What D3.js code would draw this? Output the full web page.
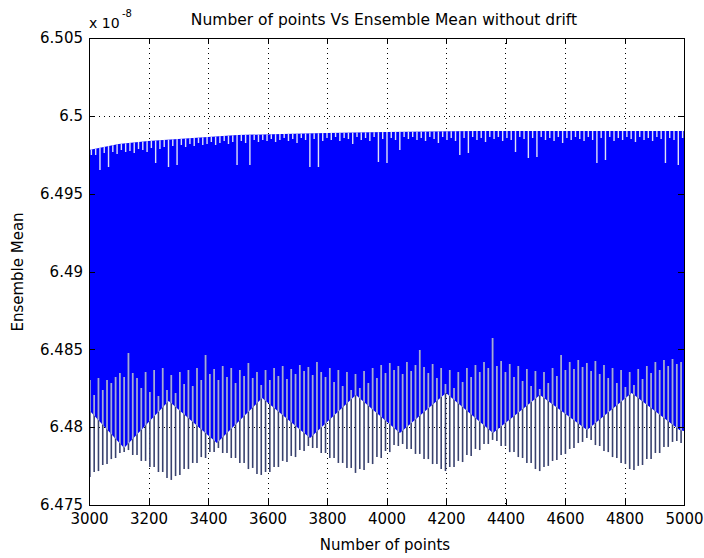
<!DOCTYPE html>
<html><head><meta charset="utf-8">
<script src="https://cdn.jsdelivr.net/npm/d3@7"></script>
<style>
body{margin:0;background:#fff}
svg{display:block}
text{font-family:"DejaVu Sans",sans-serif;fill:#000}
</style>
</head><body>
<svg id="chart" width="704" height="558"></svg>
<script>
// ---------- data (values in units of 1e-8) ----------
const title = "Number of points Vs Ensemble Mean without drift";
const xLabel = "Number of points";
const yLabel = "Ensemble Mean";
const xTicks = [3000,3200,3400,3600,3800,4000,4200,4400,4600,4800,5000];
const yTicks = [6.475,6.48,6.485,6.49,6.495,6.5,6.505];
const yTickLabels = ["6.475","6.48","6.485","6.49","6.495","6.5","6.505"];

// upper envelope of the dense band
const topX   = [3000,3050,3100,3200,3300,3400,3500,3650,3800,4000,4300,4700,5000];
const topVal = [6.49781,6.49800,6.49819,6.49838,6.49851,6.49864,6.49877,6.49883,6.49890,6.49896,6.49903,6.49903,6.49903];

// lower edge of the dense (filled) band
const bandX   = [3000,3118,3268,3430,3582,3743,3897,4045,4200,4358,4516,4674,4824,4985,5000];
const bandLow = [6.48110,6.47866,6.48168,6.47898,6.48187,6.47930,6.48207,6.47962,6.48219,6.47962,6.48207,6.47982,6.48219,6.47982,6.47975];

// individual oscillation strokes (sample grid)
const spikeX = d3.range(3003, 5000, 14.4);
const spikeTop = [
6.48303,6.48207,6.48316,6.48239,6.48303,6.48284,6.48322,6.48348,6.48322,6.48476,
6.48348,6.48316,6.48252,6.48354,6.48226,6.48367,6.48200,6.48380,6.48239,6.48335,
6.48219,6.48354,6.48277,6.48367,6.48264,6.48380,6.48303,6.48464,6.48342,6.48374,
6.48303,6.48393,6.48322,6.48380,6.48284,6.48367,6.48329,6.48412,6.48316,6.48354,
6.48271,6.48367,6.48303,6.48380,6.48329,6.48393,6.48309,6.48374,6.48342,6.48399,
6.48361,6.48387,6.48335,6.48419,6.48354,6.48322,6.48380,6.48290,6.48367,6.48264,
6.48354,6.48239,6.48342,6.48252,6.48361,6.48284,6.48380,6.48316,6.48399,6.48348,
6.48412,6.48367,6.48393,6.48342,6.48419,6.48361,6.48399,6.48496,6.48387,6.48348,
6.48406,6.48316,6.48380,6.48277,6.48367,6.48252,6.48354,6.48290,6.48380,6.48322,
6.48399,6.48354,6.48419,6.48380,6.48573,6.48393,6.48425,6.48354,6.48406,6.48322,
6.48393,6.48297,6.48374,6.48264,6.48361,6.48245,6.48354,6.48284,6.48380,6.48329,
6.48464,6.48367,6.48419,6.48374,6.48431,6.48387,6.48412,6.48361,6.48425,6.48342,
6.48399,6.48316,6.48380,6.48284,6.48367,6.48258,6.48354,6.48271,6.48374,6.48309,
6.48393,6.48348,6.48419,6.48367,6.48431,6.48393,6.48438,6.48406,6.48419];
const spikeLow = [
6.47680,6.47712,6.47718,6.47757,6.47763,6.47795,6.47802,6.47834,6.47840,6.47853,
6.47821,6.47821,6.47783,6.47783,6.47744,6.47744,6.47712,6.47712,6.47673,6.47661,
6.47686,6.47693,6.47731,6.47731,6.47770,6.47770,6.47808,6.47802,6.47840,6.47840,
6.47866,6.47834,6.47834,6.47802,6.47802,6.47770,6.47770,6.47731,6.47738,6.47699,
6.47693,6.47712,6.47712,6.47744,6.47744,6.47783,6.47776,6.47815,6.47808,6.47853,
6.47847,6.47879,6.47866,6.47866,6.47834,6.47834,6.47802,6.47802,6.47770,6.47770,
6.47738,6.47738,6.47706,6.47731,6.47725,6.47770,6.47763,6.47808,6.47802,6.47847,
6.47840,6.47885,6.47879,6.47892,6.47860,6.47860,6.47828,6.47828,6.47795,6.47795,
6.47763,6.47763,6.47731,6.47718,6.47744,6.47744,6.47783,6.47776,6.47821,6.47815,
6.47860,6.47853,6.47892,6.47892,6.47918,6.47911,6.47879,6.47879,6.47840,6.47840,
6.47808,6.47802,6.47770,6.47770,6.47731,6.47718,6.47744,6.47751,6.47783,6.47789,
6.47821,6.47828,6.47860,6.47866,6.47898,6.47905,6.47930,6.47918,6.47885,6.47879,
6.47847,6.47840,6.47808,6.47802,6.47770,6.47763,6.47731,6.47725,6.47751,6.47757,
6.47795,6.47795,6.47834,6.47834,6.47873,6.47873,6.47905,6.47911,6.47898];
// low points of the upper stroke gaps
const notchLow = [
6.49748,6.49748,6.49652,6.49761,6.49671,6.49768,6.49755,6.49781,6.49768,6.49774,
6.49761,6.49787,6.49781,6.49768,6.49793,6.49697,6.49787,6.49800,6.49671,6.49806,
6.49684,6.49813,6.49800,6.49819,6.49806,6.49825,6.49813,6.49819,6.49832,6.49813,
6.49825,6.49838,6.49819,6.49832,6.49684,6.49838,6.49825,6.49684,6.49845,6.49832,
6.49845,6.49838,6.49851,6.49832,6.49845,6.49858,6.49838,6.49851,6.49825,6.49858,
6.49845,6.49671,6.49851,6.49671,6.49838,6.49858,6.49845,6.49864,6.49838,6.49858,
6.49851,6.49819,6.49864,6.49845,6.49858,6.49838,6.49864,6.49703,6.49851,6.49697,
6.49858,6.49845,6.49781,6.49864,6.49851,6.49864,6.49845,6.49858,6.49838,6.49864,
6.49851,6.49825,6.49864,6.49845,6.49858,6.49838,6.49748,6.49858,6.49761,6.49864,
6.49845,6.49858,6.49832,6.49864,6.49851,6.49864,6.49838,6.49858,6.49845,6.49768,
6.49864,6.49851,6.49729,6.49858,6.49736,6.49864,6.49845,6.49858,6.49838,6.49864,
6.49825,6.49858,6.49845,6.49864,6.49851,6.49838,6.49864,6.49845,6.49697,6.49858,
6.49716,6.49864,6.49838,6.49858,6.49845,6.49864,6.49851,6.49832,6.49864,6.49845,
6.49858,6.49838,6.49864,6.49851,6.49697,6.49858,6.49845,6.49684,6.49858];

// ---------- layout ----------
const L = 89, R = 684, T = 38, B = 505;
const svg = d3.select("#chart");
const x = d3.scaleLinear().domain([3000, 5000]).range([L, R]);
const y = d3.scaleLinear().domain([6.475, 6.505]).range([B, T]);

svg.append("rect").attr("width", 704).attr("height", 558).attr("fill", "#fff");

// grid (below data)
const grid = svg.append("g").attr("stroke", "#000").attr("stroke-width", 1)
  .attr("stroke-dasharray", "1,4").attr("shape-rendering", "crispEdges");
grid.selectAll(".gx").data(xTicks.slice(1, -1)).join("line")
  .attr("x1", d => Math.round(x(d)) + 0.5).attr("x2", d => Math.round(x(d)) + 0.5)
  .attr("y1", T).attr("y2", B);
grid.selectAll(".gy").data(yTicks.slice(1, -1)).join("line")
  .attr("y1", d => Math.round(y(d)) + 0.5).attr("y2", d => Math.round(y(d)) + 0.5)
  .attr("x1", L).attr("x2", R);

// dense band
const bandPts = topX.map((t, i) => [x(t), y(topVal[i])])
  .concat(bandX.map((t, i) => [x(t), y(bandLow[i])]).reverse());
const bandPath = d3.line()(bandPts) + "Z";
svg.append("defs").append("clipPath").attr("id", "bandClip")
  .append("path").attr("d", bandPath);
svg.append("path").attr("d", bandPath).attr("fill", "#0000ff");

const spikes = spikeX.map((sx, i) => ({x: sx, top: spikeTop[i], low: spikeLow[i], notch: notchLow[i]}));

// strokes below band (dark on white)
svg.append("g").selectAll("line").data(spikes).join("line")
  .attr("x1", d => x(d.x)).attr("x2", d => x(d.x))
  .attr("y1", d => y(d.top)).attr("y2", d => y(d.low))
  .attr("stroke", "#39426f").attr("stroke-width", 1.6);
// same strokes inside band (appear light on blue)
svg.append("g").attr("clip-path", "url(#bandClip)")
  .selectAll("line").data(spikes).join("line")
  .attr("x1", d => x(d.x)).attr("x2", d => x(d.x))
  .attr("y1", d => y(d.top)).attr("y2", d => y(d.low))
  .attr("stroke", "#a3a9e0").attr("stroke-width", 1.7);
// gaps at the top edge
svg.append("g").attr("clip-path", "url(#bandClip)")
  .selectAll("line").data(spikes).join("line")
  .attr("x1", d => x(d.x) + 1.5).attr("x2", d => x(d.x) + 1.5)
  .attr("y1", y(6.4995)).attr("y2", d => y(d.notch))
  .attr("stroke", "#dfe2f6").attr("stroke-width", 1.4);

// axes (ticks inward on all sides)
function style(g) {
  g.select(".domain").remove();
  g.selectAll("line").attr("stroke", "#000").attr("shape-rendering", "crispEdges");
  g.attr("font-family", null).attr("font-size", null);
  g.selectAll("text").attr("font-size", 15).attr("fill", "#000");
}
svg.append("g").attr("transform", `translate(0,${B})`)
  .call(d3.axisBottom(x).tickValues(xTicks).tickFormat(d3.format("d"))
    .tickSizeInner(-6).tickSizeOuter(0).tickPadding(8)).call(style);
svg.append("g").attr("transform", `translate(0,${T})`)
  .call(d3.axisTop(x).tickValues(xTicks).tickFormat("")
    .tickSizeInner(-6).tickSizeOuter(0)).call(style);
svg.append("g").attr("transform", `translate(${L},0)`)
  .call(d3.axisLeft(y).tickValues(yTicks).tickFormat((d, i) => yTickLabels[i])
    .tickSizeInner(-6).tickSizeOuter(0).tickPadding(6)).call(style);
svg.append("g").attr("transform", `translate(${R},0)`)
  .call(d3.axisRight(y).tickValues(yTicks).tickFormat("")
    .tickSizeInner(-6).tickSizeOuter(0)).call(style);

svg.append("rect").attr("x", L + 0.5).attr("y", T + 0.5)
  .attr("width", R - L).attr("height", B - T)
  .attr("fill", "none").attr("stroke", "#000").attr("stroke-width", 1)
  .attr("shape-rendering", "crispEdges");

// texts
svg.append("text").attr("x", 384).attr("y", 25).attr("text-anchor", "middle")
  .attr("font-size", 15.5).text(title);
svg.append("text").attr("x", 385).attr("y", 550).attr("text-anchor", "middle")
  .attr("font-size", 15).text(xLabel);
svg.append("text").attr("transform", "translate(23,272) rotate(-90)")
  .attr("text-anchor", "middle").attr("font-size", 15).text(yLabel);
svg.append("text").attr("x", 89).attr("y", 28).attr("font-size", 14).text("x 10");
svg.append("text").attr("x", 122).attr("y", 17).attr("font-size", 10).text("-8");
</script>
</body></html>
